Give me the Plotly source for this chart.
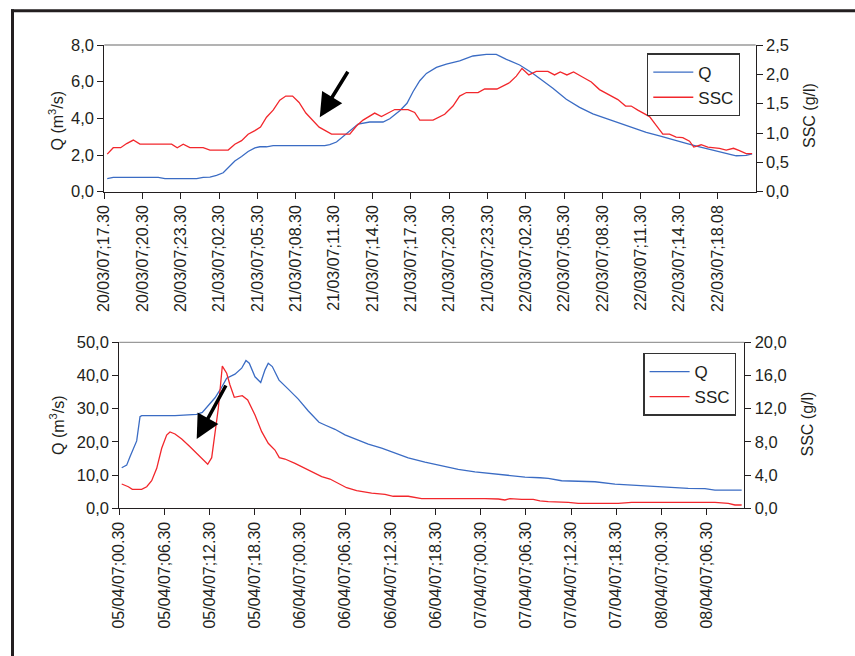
import plotly.graph_objects as go

# ---------------- Event 1: 20-22 March 2007 (hours from 20/03/07 17:30) ----------------
mar_q_t = [0.23, 0.70, 4.22, 4.75, 7.23, 7.74, 8.27, 8.79, 9.31, 9.83, 10.22, 10.75, 11.26, 11.79,
           12.18, 12.70, 13.22, 17.26, 17.65, 18.18, 18.83, 19.48, 19.87, 20.78, 21.82, 22.35, 23.13,
           23.70, 24.17, 24.70, 25.22, 26.00, 26.78, 27.82, 28.86, 29.91, 30.69, 31.48, 32.52, 33.56,
           34.08, 35.12, 36.17, 37.21, 38.25, 39.30, 40.34, 41.38, 42.43, 43.47, 44.51, 45.56, 46.60,
           47.64, 48.69, 49.47, 50.25, 50.72]
mar_q = [0.71, 0.78, 0.78, 0.71, 0.71, 0.78, 0.80, 0.89, 1.03, 1.38, 1.67, 1.92, 2.19, 2.39,
         2.45, 2.45, 2.51, 2.51, 2.57, 2.71, 3.09, 3.51, 3.69, 3.80, 3.80, 3.98, 4.42,
         4.82, 5.45, 6.05, 6.45, 6.78, 6.96, 7.14, 7.40, 7.49, 7.49, 7.22, 6.91, 6.45,
         6.18, 5.64, 5.04, 4.60, 4.24, 3.98, 3.73, 3.47, 3.24, 3.04, 2.86, 2.64, 2.45,
         2.27, 2.06, 1.96, 1.98, 2.06]

mar_ssc_t = [0.23, 0.70, 1.28, 1.75, 2.27, 2.79, 5.27, 5.71, 6.18, 6.70, 7.74, 8.27, 9.70, 10.22,
             10.75, 11.26, 11.79, 12.23, 12.70, 13.22, 13.74, 14.21, 14.74, 15.25, 15.78, 16.30,
             16.82, 17.79, 19.22, 19.74, 20.26, 21.17, 21.70, 22.74, 23.78, 24.30, 24.70, 25.74,
             26.65, 27.30, 27.82, 28.35, 29.26, 29.78, 30.74, 31.74, 32.26, 32.70, 33.24, 33.82,
             34.73, 35.25, 35.70, 36.22, 36.74, 37.47, 38.13, 38.77, 39.42, 40.21, 40.81, 41.25,
             41.77, 42.69, 43.21, 43.73, 44.25, 44.77, 45.29, 45.82, 46.15, 46.73, 47.25, 48.16,
             48.69, 49.26, 49.73, 50.25, 50.72]
mar_ssc = [0.64, 0.75, 0.75, 0.82, 0.88, 0.81, 0.81, 0.75, 0.81, 0.75, 0.75, 0.71, 0.71, 0.81,
           0.87, 0.98, 1.04, 1.10, 1.27, 1.39, 1.56, 1.63, 1.63, 1.52, 1.34, 1.22,
           1.10, 0.98, 0.98, 1.12, 1.22, 1.34, 1.28, 1.40, 1.40, 1.35, 1.22, 1.22,
           1.32, 1.46, 1.63, 1.69, 1.69, 1.75, 1.75, 1.86, 1.97, 2.10, 1.99, 2.05,
           2.05, 1.99, 2.04, 1.99, 2.04, 1.95, 1.87, 1.74, 1.66, 1.57, 1.46, 1.46,
           1.39, 1.28, 1.13, 0.98, 0.98, 0.93, 0.92, 0.86, 0.76, 0.80, 0.76, 0.74,
           0.71, 0.74, 0.70, 0.65, 0.65]

mar_ticks = list(range(0, 52, 3))          # tick marks every 3 h
mar_label_pos = list(range(0, 49, 3))      # labelled ticks
mar_labels = ["20/03/07;17.30", "20/03/07;20.30", "20/03/07;23.30", "21/03/07;02.30",
              "21/03/07;05.30", "21/03/07;08.30", "21/03/07;11.30", "21/03/07;14.30",
              "21/03/07;17.30", "21/03/07;20.30", "21/03/07;23.30", "22/03/07;02.30",
              "22/03/07;05.30", "22/03/07;08.30", "22/03/07;11.30", "22/03/07;14.30",
              "22/03/07;18.08"]

# ---------------- Event 2: 5-8 April 2007 (hours from 05/04/07 00:30) ----------------
apr_q_t = [0.32, 0.98, 1.42, 1.86, 2.31, 2.75, 2.97, 7.40, 10.28, 11.02, 11.82, 12.71, 13.50, 14.26,
           15.36, 16.25, 16.82, 17.26, 18.02, 18.78, 19.35, 19.78, 20.32, 21.21, 22.44, 23.77,
           25.10, 26.52, 27.31, 27.98, 28.64, 29.97, 31.52, 33.06, 34.84, 36.61, 38.37, 40.59,
           42.81, 45.01, 47.23, 49.45, 52.10, 53.87, 55.86, 56.96, 58.74, 61.84, 63.17, 65.82,
           68.04, 70.69, 72.90, 75.55, 77.77, 79.10, 82.65]
apr_q = [12.2, 13.0, 15.5, 18.1, 20.3, 27.6, 27.9, 27.9, 28.3, 28.9, 31.1, 33.3, 36.1, 39.2,
         40.4, 42.2, 44.5, 43.7, 39.6, 37.9, 41.7, 43.7, 42.7, 38.6, 35.9, 32.9,
         29.3, 25.9, 25.1, 24.5, 23.8, 22.1, 20.8, 19.3, 18.1, 16.6, 15.2, 13.9,
         12.7, 11.7, 11.0, 10.5, 9.8, 9.4, 9.2, 9.0, 8.3, 8.0, 8.0, 7.3,
         7.0, 6.6, 6.3, 6.0, 5.9, 5.5, 5.5]

apr_ssc_t = [0.32, 1.20, 1.73, 2.97, 3.64, 4.30, 4.97, 5.63, 6.29, 6.73, 7.40, 8.29, 9.39, 10.72,
             11.74, 12.27, 12.71, 13.15, 13.68, 14.26, 14.70, 15.27, 16.33, 17.05, 18.02, 18.91,
             19.78, 20.67, 21.25, 22.00, 23.33, 25.10, 26.88, 27.98, 28.64, 30.19, 31.52, 33.51,
             35.28, 36.38, 38.37, 40.15, 48.56, 50.33, 51.21, 51.88, 53.43, 54.97, 55.86, 56.96,
             59.62, 60.95, 66.26, 68.04, 79.10, 80.87, 81.76, 82.65]
apr_ssc = [2.93, 2.60, 2.29, 2.29, 2.60, 3.33, 4.82, 7.23, 8.83, 9.19, 8.95, 8.35, 7.42, 6.22,
           5.30, 6.10, 8.83, 12.05, 17.14, 16.27, 14.86, 13.37, 13.57, 13.05, 11.24, 9.23,
           7.83, 7.02, 6.10, 5.94, 5.42, 4.61, 3.81, 3.53, 3.21, 2.48, 2.12, 1.84,
           1.69, 1.45, 1.45, 1.16, 1.16, 1.12, 1.00, 1.16, 1.08, 1.08, 0.90, 0.80,
           0.72, 0.60, 0.60, 0.72, 0.72, 0.60, 0.40, 0.40]

apr_ticks = list(range(0, 82, 3))          # tick marks every 3 h
apr_label_pos = list(range(0, 79, 6))      # labelled ticks every 6 h
apr_labels = ["05/04/07;00.30", "05/04/07;06.30", "05/04/07;12.30", "05/04/07;18.30",
              "06/04/07;00.30", "06/04/07;06.30", "06/04/07;12.30", "06/04/07;18.30",
              "07/04/07;00.30", "07/04/07;06.30", "07/04/07;12.30", "07/04/07;18.30",
              "08/04/07;00.30", "08/04/07;06.30"]

# ---------------- styling ----------------
W, H = 855, 656
BLUE = "#3b6cc4"
RED = "#f2272c"
INK = "#231f20"
FONT = "Liberation Sans, Arial, sans-serif"

top_x = [104.3 / W, 755.7 / W]
top_y = [1 - 191.7 / H, 1 - 45.0 / H]
bot_x = [119.3 / W, 744.3 / W]
bot_y = [1 - 508.3 / H, 1 - 342.3 / H]

fig = go.Figure()

fig.add_trace(go.Scatter(x=mar_q_t, y=mar_q, name="Q", mode="lines",
                         line=dict(color=BLUE, width=1.3), xaxis="x", yaxis="y", legend="legend"))
fig.add_trace(go.Scatter(x=mar_ssc_t, y=mar_ssc, name="SSC", mode="lines",
                         line=dict(color=RED, width=1.3), xaxis="x", yaxis="y2", legend="legend"))
fig.add_trace(go.Scatter(x=apr_q_t, y=apr_q, name="Q", mode="lines",
                         line=dict(color=BLUE, width=1.3), xaxis="x2", yaxis="y3", legend="legend2"))
fig.add_trace(go.Scatter(x=apr_ssc_t, y=apr_ssc, name="SSC", mode="lines",
                         line=dict(color=RED, width=1.3), xaxis="x2", yaxis="y4", legend="legend2"))

axis_line = dict(showline=True, linecolor=INK, linewidth=1.2, showgrid=False, zeroline=False,
                 ticks="outside", ticklen=6, tickwidth=1.2, tickcolor=INK,
                 tickfont=dict(family=FONT, size=16.5, color=INK))


def bare_ticks(side_ticks):
    return dict(showline=False, showgrid=False, zeroline=False, showticklabels=False,
                ticks=side_ticks, ticklen=6, tickwidth=1.2, tickcolor=INK, tickmode="array")


x_common = dict(tickmode="array", tickangle=-90, tickfont=dict(family=FONT, size=16, color=INK))

fig.update_layout(
    # upper plot
    xaxis=dict(domain=top_x, range=[0, 51], anchor="y", tickvals=mar_label_pos, ticktext=mar_labels,
               **{**axis_line, **x_common}),
    yaxis=dict(domain=top_y, range=[0, 8], anchor="x", tickvals=[0, 2, 4, 6, 8], tickformat=".1f",
               **axis_line),
    yaxis2=dict(range=[0, 2.5], overlaying="y", side="right", anchor="x",
                tickvals=[0, 0.5, 1, 1.5, 2, 2.5], tickformat=".1f", **axis_line),
    xaxis3=dict(domain=top_x, range=[0, 51], overlaying="x", anchor="y",
                tickvals=mar_ticks, **bare_ticks("inside")),
    xaxis5=dict(domain=top_x, range=[0, 51], overlaying="x", anchor="y",
                tickvals=mar_ticks, **bare_ticks("outside")),
    yaxis5=dict(range=[0, 8], overlaying="y", side="left", anchor="x", tickvals=[0, 2, 4, 6, 8],
                **bare_ticks("inside")),
    yaxis6=dict(range=[0, 2.5], overlaying="y", side="right", anchor="x",
                tickvals=[0, 0.5, 1, 1.5, 2, 2.5], **bare_ticks("inside")),

    # lower plot
    xaxis2=dict(domain=bot_x, range=[0, 83], anchor="y3", tickvals=apr_label_pos, ticktext=apr_labels,
                **{**axis_line, **x_common}),
    yaxis3=dict(domain=bot_y, range=[0, 50], anchor="x2", tickvals=[0, 10, 20, 30, 40, 50],
                tickformat=".1f", **axis_line),
    yaxis4=dict(range=[0, 20], overlaying="y3", side="right", anchor="x2",
                tickvals=[0, 4, 8, 12, 16, 20], tickformat=".1f", **axis_line),
    xaxis4=dict(domain=bot_x, range=[0, 83], overlaying="x2", anchor="y3",
                tickvals=apr_ticks, **bare_ticks("inside")),
    xaxis6=dict(domain=bot_x, range=[0, 83], overlaying="x2", anchor="y3",
                tickvals=apr_ticks, **bare_ticks("outside")),
    yaxis7=dict(range=[0, 50], overlaying="y3", side="left", anchor="x2",
                tickvals=[0, 10, 20, 30, 40, 50], **bare_ticks("inside")),
    yaxis8=dict(range=[0, 20], overlaying="y3", side="right", anchor="x2",
                tickvals=[0, 4, 8, 12, 16, 20], **bare_ticks("inside")),
)

legend_style = dict(xanchor="left", yanchor="top", bgcolor="white", bordercolor="#333333",
                    borderwidth=1.3, font=dict(family=FONT, size=17, color=INK), itemwidth=40,
                    tracegroupgap=0)
fig.update_layout(
    width=W, height=H, margin=dict(l=0, r=0, t=0, b=0, autoexpand=False),
    paper_bgcolor="white", plot_bgcolor="white", separators=",.",
    font=dict(family=FONT, size=16, color=INK),
    showlegend=True,
    legend=dict(x=647 / W, y=1 - 53.3 / H, **legend_style),
    legend2=dict(x=643.3 / W, y=1 - 352.7 / H, **legend_style),
)

# thin grey line closing the top of each plot area
for xr, yr in (("x domain", "y domain"), ("x2 domain", "y3 domain")):
    fig.add_shape(type="line", xref=xr, yref=yr, x0=0, x1=1, y0=1, y1=1,
                  line=dict(color="#9a9a9a", width=1.3))

# heavy frame around the figure (top and left edges)
fig.add_shape(type="line", xref="paper", yref="paper", x0=11 / W, x1=1, y0=1 - 10.7 / H, y1=1 - 10.7 / H,
              line=dict(color=INK, width=3))
fig.add_shape(type="line", xref="paper", yref="paper", x0=12.5 / W, x1=12.5 / W, y0=0, y1=1 - 9.3 / H,
              line=dict(color=INK, width=3))

# axis titles
titles = [
    ("Q (m<sup>3</sup>/s)", 56, 120.5),
    ("SSC (g/l)", 810, 116),
    ("Q (m<sup>3</sup>/s)", 57, 425),
    ("SSC (g/l)", 806.5, 424),
]
for txt, px, py in titles:
    fig.add_annotation(text=txt, x=px / W, y=1 - py / H, xref="paper", yref="paper",
                       xanchor="center", yanchor="middle", textangle=-90, showarrow=False,
                       font=dict(family=FONT, size=16, color=INK))

# arrows pointing at the sediment peaks
fig.add_annotation(x=16.87, y=4.06, xref="x", yref="y", ax=29, ay=-47, text="",
                   showarrow=True, arrowhead=2, arrowwidth=3.5, arrowsize=1.35, arrowcolor="black")
fig.add_annotation(x=10.28, y=20.87, xref="x2", yref="y3", ax=30, ay=-55, text="",
                   showarrow=True, arrowhead=2, arrowwidth=3.5, arrowsize=1.35, arrowcolor="black")

fig.write_html("out.html")
